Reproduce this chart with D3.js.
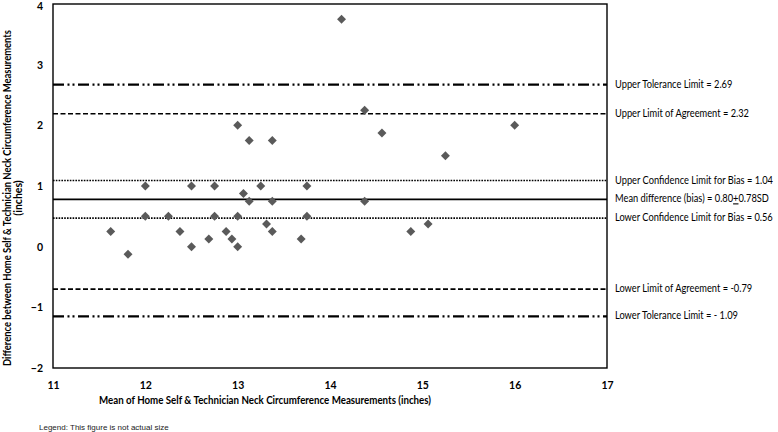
<!DOCTYPE html>
<html>
<head>
<meta charset="utf-8">
<script src="https://cdn.jsdelivr.net/npm/d3@7"></script>
<style>
  body { margin: 0; background: #fff; }
</style>
</head>
<body>
<div id="chart"></div>
<script>
var meanVals = [11.625, 11.8125, 12, 12, 12.25, 12.375, 12.5, 12.5, 12.6875, 12.75, 12.75,
                12.875, 12.9375, 13, 13, 13, 13.0625, 13.125, 13.125, 13.25, 13.3125, 13.375,
                13.375, 13.375, 13.6875, 13.75, 13.75, 14.125, 14.375, 14.375, 14.5625, 14.875,
                15.0625, 15.25, 16];
var diffVals = [0.25, -0.125, 1, 0.5, 0.5, 0.25, 1, 0, 0.125, 1, 0.5,
                0.25, 0.125, 2, 0.5, 0, 0.875, 1.75, 0.75, 1, 0.375, 1.75,
                0.75, 0.25, 0.125, 1, 0.5, 3.75, 2.25, 0.75, 1.875, 0.25,
                0.375, 1.5, 2];

// reference lines (as drawn) and their labels
var refKinds = ["tolerance", "agreement", "confidence", "mean", "confidence", "agreement", "tolerance"];
var refValues = [2.67, 2.19, 1.09, 0.78, 0.47, -0.70, -1.15];
var refLabels = ["Upper Tolerance Limit = 2.69",
                 "Upper Limit of Agreement = 2.32",
                 "Upper Confidence Limit for Bias = 1.04",
                 "Mean difference (bias) = 0.80|+|0.78SD",
                 "Lower Confidence Limit for Bias = 0.56",
                 "Lower Limit of Agreement = -0.79",
                 "Lower Tolerance Limit = - 1.09"];

var xTicks = [11, 12, 13, 14, 15, 16, 17];
var yTicks = [-2, -1, 0, 1, 2, 3, 4];

var xTitle = "Mean of Home Self & Technician Neck Circumference Measurements (inches)";
var yTitle = ["Difference between Home Self & Technician Neck Circumference Measurements", "(inches)"];
var note = "Legend: This figure is not actual size";

var W = 778, H = 432;
var box = {left: 53, right: 607, top: 4, bottom: 368};
var FONT = "Lato, 'Liberation Sans', sans-serif";

var svg = d3.select("#chart").append("svg")
    .attr("width", W)
    .attr("height", H)
    .style("font-family", FONT);

var x = d3.scaleLinear().domain([11, 17]).range([box.left, box.right]);
var y = d3.scaleLinear().domain([-2, 4]).range([box.bottom, box.top]);

var lineStyle = {
  tolerance:  {w: 2.2, dash: "11,3.5,2,3,2,3.5"},
  agreement:  {w: 1.6, dash: "5,2.5"},
  confidence: {w: 1.6, dash: "1.6,1.2"},
  mean:       {w: 1.6, dash: null}
};

// squeeze a text to a given width (the original font is narrower than ours)
function fitWidth(sel, target) {
  sel.each(function() {
    var len = this.getComputedTextLength();
    if (len > target) {
      d3.select(this).attr("textLength", target).attr("lengthAdjust", "spacingAndGlyphs");
    }
  });
}

// reference lines
svg.append("g").selectAll("line")
    .data(refValues)
    .enter().append("line")
    .attr("x1", box.left)
    .attr("x2", box.right)
    .attr("y1", function(d) { return y(d); })
    .attr("y2", function(d) { return y(d); })
    .attr("stroke", "#000")
    .attr("stroke-width", function(d, i) { return lineStyle[refKinds[i]].w; })
    .attr("stroke-dasharray", function(d, i) { return lineStyle[refKinds[i]].dash; });

// points: squares turned 45 degrees
svg.append("g").selectAll("path")
    .data(meanVals)
    .enter().append("path")
    .attr("d", d3.symbol().type(d3.symbolSquare).size(40))
    .attr("transform", function(d, i) {
      return "translate(" + x(d) + "," + y(diffVals[i]) + ") rotate(45)";
    })
    .attr("fill", "#5a5a5a");

// plot frame
svg.append("rect")
    .attr("x", box.left)
    .attr("y", box.top)
    .attr("width", box.right - box.left)
    .attr("height", box.bottom - box.top)
    .attr("fill", "none")
    .attr("stroke", "#000")
    .attr("stroke-width", 1.4);

// axes, tick labels only
var xAxis = svg.append("g")
    .attr("transform", "translate(0," + box.bottom + ")")
    .call(d3.axisBottom(x).tickValues(xTicks).tickSize(0).tickPadding(14).tickFormat(d3.format("d")));
var yAxis = svg.append("g")
    .attr("transform", "translate(" + box.left + ",0)")
    .call(d3.axisLeft(y).tickValues(yTicks).tickSize(0).tickPadding(10).tickFormat(d3.format("d")));
[xAxis, yAxis].forEach(function(a) {
  a.select(".domain").remove();
  a.attr("font-family", null);
  a.selectAll("text")
      .attr("font-size", 10.5)
      .attr("font-weight", "bold")
      .attr("fill", "#000");
});
yAxis.selectAll(".tick text").filter(function(d) { return d === 4; }).attr("dy", "0.5em");

// line labels, all scaled by one factor so the widest one ends near the page edge
var labels = svg.append("g").selectAll("text")
    .data(refLabels)
    .enter().append("text")
    .attr("x", 615)
    .attr("y", function(d, i) { return y(refValues[i]) + 3; })
    .attr("font-size", 10.8)
    .attr("fill", "#000");
labels.each(function(d) {
  var parts = d.split("|");
  var t = d3.select(this);
  parts.forEach(function(p, k) {
    var s = t.append("tspan").text(p);
    if (k === 1) s.attr("text-decoration", "underline");
  });
});
var widest = d3.max(labels.nodes(), function(n) { return n.getComputedTextLength(); });
var k = Math.min(1, 158 / widest);
labels.each(function() {
  d3.select(this).attr("textLength", this.getComputedTextLength() * k)
      .attr("lengthAdjust", "spacingAndGlyphs");
});

// axis titles
svg.append("text")
    .attr("x", 265)
    .attr("y", 404)
    .attr("text-anchor", "middle")
    .attr("font-size", 10.5)
    .attr("font-weight", "bold")
    .text(xTitle)
    .call(fitWidth, 332);

svg.append("g")
    .attr("transform", "translate(11,198) rotate(-90)")
    .selectAll("text")
    .data(yTitle)
    .enter().append("text")
    .attr("x", 0)
    .attr("y", function(d, i) { return i * 11; })
    .attr("text-anchor", "middle")
    .attr("font-size", 10.5)
    .attr("font-weight", "bold")
    .text(function(d) { return d; })
    .call(fitWidth, 336);

svg.append("text")
    .attr("x", 39)
    .attr("y", 430)
    .style("font-family", "'Liberation Sans', Arial, sans-serif")
    .attr("font-size", 8)
    .attr("fill", "#222")
    .text(note);
</script>
</body>
</html>
